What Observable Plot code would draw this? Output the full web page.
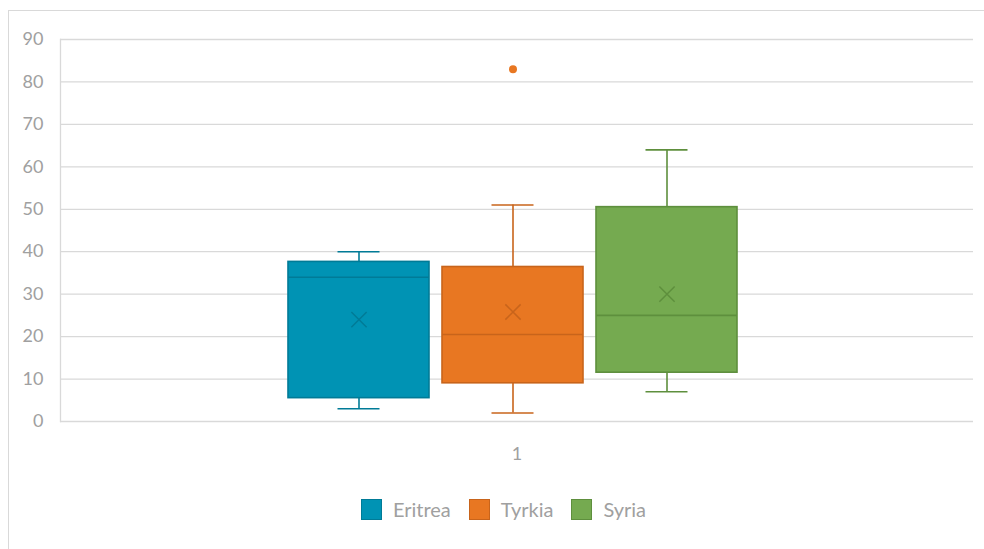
<!DOCTYPE html>
<html>
<head>
<meta charset="utf-8">
<script src="https://cdn.jsdelivr.net/npm/d3@7"></script>
<script src="https://cdn.jsdelivr.net/npm/@observablehq/plot@0.6"></script>
<style>
  html, body { margin: 0; padding: 0; background: #fff; overflow: hidden; }
  #wrap { position: relative; width: 984px; height: 549px; font-family: Lato, "Open Sans", sans-serif; }
  #border { position: absolute; left: 8px; top: 10px; width: 1000px; height: 600px; border: 1px solid #d9d9d9; box-sizing: border-box; }
  #chart { position: absolute; left: 0; top: 0; }
  #legend { position: absolute; left: 0; top: 497px; width: 984px; display: flex; justify-content: center; padding-left: 23px; box-sizing: border-box; font-size: 20px; color: #a0a0a0; }
  .item { display: flex; align-items: center; margin: 0 9px; }
  .sw { width: 19px; height: 19px; border: 1px solid; margin-right: 11px; }
</style>
</head>
<body>
<div id="wrap">
  <div id="border"></div>
  <div id="chart"></div>
  <div id="legend"></div>
</div>
<script>
const countries = ["Eritrea", "Tyrkia", "Syria"];
const mins = [3, 2, 7];
const q1s = [5.5, 9, 11.5];
const medians = [34, 20.5, 25];
const q3s = [37.6, 36.4, 50.5];
const maxs = [40, 51, 64];
const means = [24, 25.8, 30];
const outlierCountries = ["Tyrkia"];
const outlierValues = [83];
const yTicks = [0, 10, 20, 30, 40, 50, 60, 70, 80, 90];
const categoryLabel = ["1"];

const fills = ["#0093b4", "#e87722", "#75aa50"];
const strokes = ["#007b97", "#c8641b", "#5e8f3d"];

const rows = countries.map((c, i) => ({
  country: c, min: mins[i], q1: q1s[i], median: medians[i], q3: q3s[i], max: maxs[i], mean: means[i]
}));
const outliers = outlierCountries.map((c, i) => ({country: c, value: outlierValues[i]}));

const fillOf = d => fills[countries.indexOf(d.country)];
const strokeOf = d => strokes[countries.indexOf(d.country)];

const capInset = 49.5;

const chart = Plot.plot({
  width: 984,
  height: 475,
  marginLeft: 60,
  marginRight: 11,
  marginTop: 39,
  marginBottom: 54,
  style: {fontFamily: "Lato, 'Open Sans', sans-serif", fontSize: "18px", color: "#a0a0a0", background: "transparent"},
  x: {domain: countries, range: [287.3, 737], paddingInner: 0.087, paddingOuter: 0, axis: null},
  y: {domain: [0, 90], ticks: yTicks, tickSize: 0, tickPadding: 17, label: null},
  marks: [
    Plot.ruleY(yTicks, {stroke: "#d9d9d9", strokeWidth: 1.3}),
    Plot.frame({anchor: "left", stroke: "#d9d9d9", strokeWidth: 1.3}),
    Plot.axisY({ticks: yTicks, tickSize: 0, tickPadding: 17, fill: "#a0a0a0", fontSize: 18, label: null}),
    // whiskers
    Plot.ruleX(rows, {x: "country", y1: "q3", y2: "max", stroke: strokeOf, strokeWidth: 1.6}),
    Plot.ruleX(rows, {x: "country", y1: "min", y2: "q1", stroke: strokeOf, strokeWidth: 1.6}),
    Plot.tickY(rows, {x: "country", y: "max", stroke: strokeOf, strokeWidth: 1.6, insetLeft: capInset, insetRight: capInset}),
    Plot.tickY(rows, {x: "country", y: "min", stroke: strokeOf, strokeWidth: 1.6, insetLeft: capInset, insetRight: capInset}),
    // boxes
    Plot.barY(rows, {x: "country", y1: "q1", y2: "q3", fill: fillOf, stroke: strokeOf, strokeWidth: 1.6}),
    Plot.tickY(rows, {x: "country", y: "median", stroke: strokeOf, strokeWidth: 1.6}),
    Plot.dot(rows, {x: "country", y: "mean", symbol: "times", r: 7, stroke: strokeOf, strokeWidth: 1.5}),
    Plot.dot(outliers, {x: "country", y: "value", r: 4, fill: d => fills[countries.indexOf(d.country)], stroke: "none"}),
    Plot.text(categoryLabel, {frameAnchor: "bottom", dy: 38, text: d => d, fill: "#a0a0a0", fontSize: 18})
  ]
});
document.getElementById("chart").appendChild(chart);

const legend = document.getElementById("legend");
countries.forEach((c, i) => {
  const item = document.createElement("div");
  item.className = "item";
  const sw = document.createElement("div");
  sw.className = "sw";
  sw.style.background = fills[i];
  sw.style.borderColor = strokes[i];
  const lab = document.createElement("span");
  lab.textContent = c;
  item.appendChild(sw);
  item.appendChild(lab);
  legend.appendChild(item);
});
</script>
</body>
</html>
